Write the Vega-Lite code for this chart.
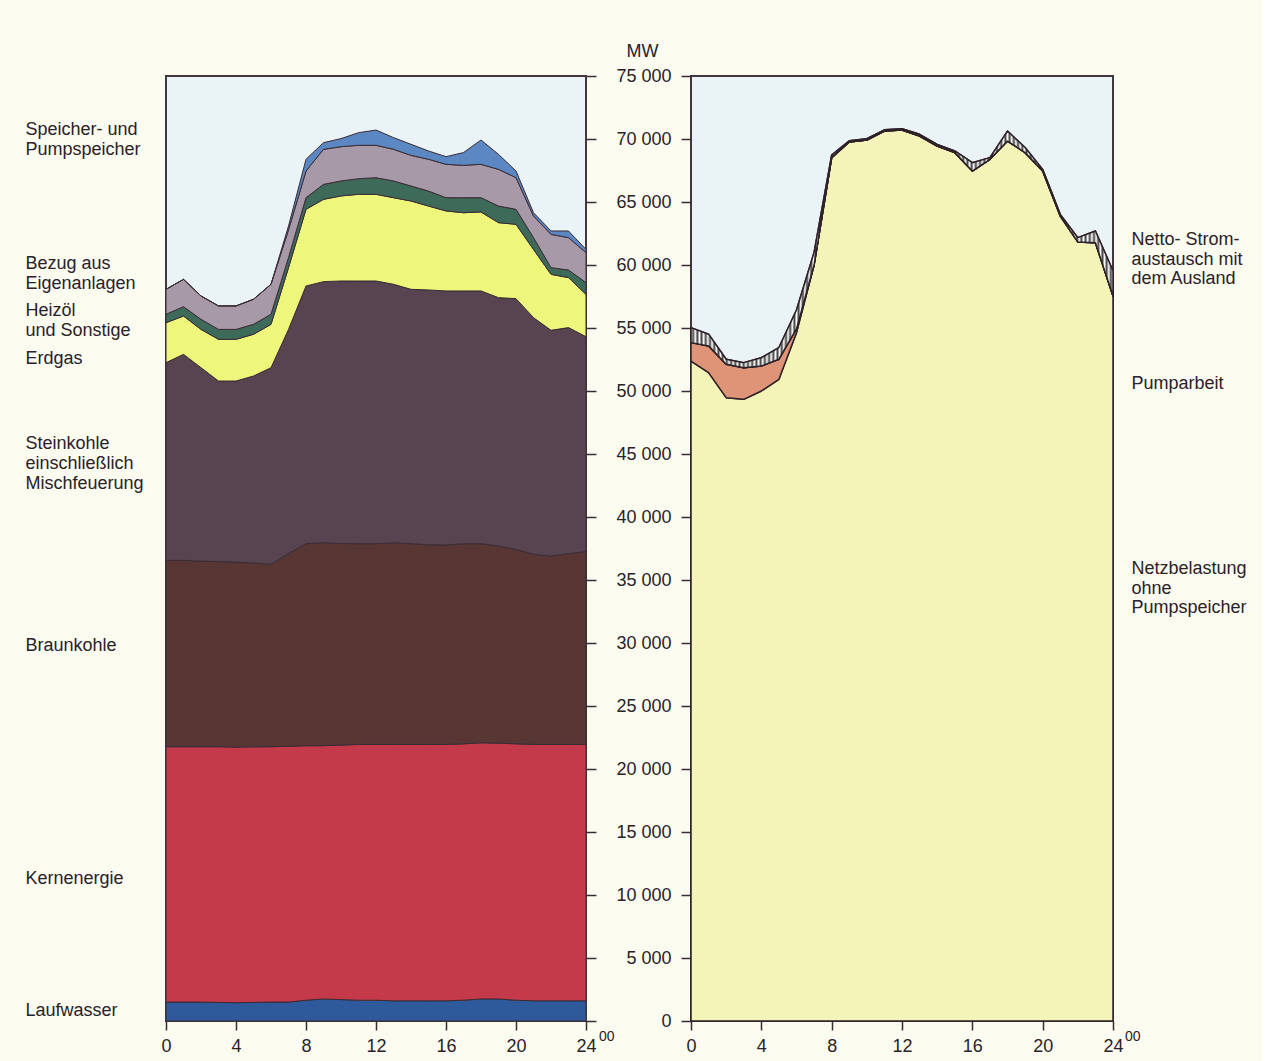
{
  "$schema": "https://vega.github.io/schema/vega-lite/v6.json",
  "background": "#fbfbef",
  "padding": {"left": 24, "top": 41, "right": 14, "bottom": 6},
  "bounds": "flush",
  "spacing": 105,
  "resolve": {"scale": {"color": "independent"}},
  "config": {
    "font": "Liberation Sans",
    "view": {"fill": "#eaf3f6", "stroke": "#43363e", "strokeWidth": 2},
    "axis": {
      "grid": false, "domain": false,
      "labelFont": "Liberation Sans", "labelFontSize": 18, "labelColor": "#2a2228", "labelFontWeight": "normal",
      "tickColor": "#3a2c34", "tickWidth": 1.5,
      "titleFont": "Liberation Sans", "titleColor": "#2a2228", "titleFontSize": 18, "titleFontWeight": "normal"
    }
  },
  "hconcat": [
    {
      "width": 420,
      "height": 945,
      "layer": [
        {
          "data": {"values": [
            {"h":0,"Laufwasser":1500,"Kernenergie":20270,"Braunkohle":14790,"Steinkohle":15690,"Erdgas":3170,"Heizoel":670,"Bezug":1980,"Speicher":0},
            {"h":1,"Laufwasser":1500,"Kernenergie":20270,"Braunkohle":14790,"Steinkohle":16350,"Erdgas":3040,"Heizoel":740,"Bezug":2170,"Speicher":0},
            {"h":2,"Laufwasser":1500,"Kernenergie":20270,"Braunkohle":14730,"Steinkohle":15350,"Erdgas":3040,"Heizoel":800,"Bezug":1850,"Speicher":0},
            {"h":3,"Laufwasser":1480,"Kernenergie":20290,"Braunkohle":14690,"Steinkohle":14330,"Erdgas":3310,"Heizoel":790,"Bezug":1860,"Speicher":0},
            {"h":4,"Laufwasser":1450,"Kernenergie":20290,"Braunkohle":14680,"Steinkohle":14370,"Erdgas":3310,"Heizoel":790,"Bezug":1860,"Speicher":0},
            {"h":5,"Laufwasser":1480,"Kernenergie":20280,"Braunkohle":14590,"Steinkohle":14840,"Erdgas":3310,"Heizoel":790,"Bezug":1990,"Speicher":0},
            {"h":6,"Laufwasser":1500,"Kernenergie":20270,"Braunkohle":14480,"Steinkohle":15600,"Erdgas":3440,"Heizoel":800,"Bezug":2380,"Speicher":0},
            {"h":7,"Laufwasser":1500,"Kernenergie":20300,"Braunkohle":15300,"Steinkohle":17790,"Erdgas":4900,"Heizoel":800,"Bezug":2200,"Speicher":300},
            {"h":8,"Laufwasser":1650,"Kernenergie":20200,"Braunkohle":16030,"Steinkohle":20450,"Erdgas":6090,"Heizoel":920,"Bezug":2120,"Speicher":930},
            {"h":9,"Laufwasser":1750,"Kernenergie":20100,"Braunkohle":16110,"Steinkohle":20720,"Erdgas":6530,"Heizoel":1190,"Bezug":2780,"Speicher":530},
            {"h":10,"Laufwasser":1700,"Kernenergie":20200,"Braunkohle":16000,"Steinkohle":20830,"Erdgas":6750,"Heizoel":1190,"Bezug":2720,"Speicher":640},
            {"h":11,"Laufwasser":1650,"Kernenergie":20300,"Braunkohle":15930,"Steinkohle":20850,"Erdgas":6880,"Heizoel":1240,"Bezug":2650,"Speicher":1000},
            {"h":12,"Laufwasser":1650,"Kernenergie":20300,"Braunkohle":15930,"Steinkohle":20850,"Erdgas":6880,"Heizoel":1320,"Bezug":2570,"Speicher":1210},
            {"h":13,"Laufwasser":1600,"Kernenergie":20350,"Braunkohle":16010,"Steinkohle":20510,"Erdgas":6870,"Heizoel":1330,"Bezug":2510,"Speicher":930},
            {"h":14,"Laufwasser":1600,"Kernenergie":20350,"Braunkohle":15930,"Steinkohle":20190,"Erdgas":7010,"Heizoel":1190,"Bezug":2430,"Speicher":880},
            {"h":15,"Laufwasser":1600,"Kernenergie":20350,"Braunkohle":15850,"Steinkohle":20220,"Erdgas":6660,"Heizoel":1190,"Bezug":2520,"Speicher":660},
            {"h":16,"Laufwasser":1600,"Kernenergie":20350,"Braunkohle":15830,"Steinkohle":20160,"Erdgas":6350,"Heizoel":1050,"Bezug":2650,"Speicher":610},
            {"h":17,"Laufwasser":1650,"Kernenergie":20350,"Braunkohle":15880,"Steinkohle":20060,"Erdgas":6210,"Heizoel":1190,"Bezug":2570,"Speicher":1010},
            {"h":18,"Laufwasser":1750,"Kernenergie":20330,"Braunkohle":15800,"Steinkohle":20060,"Erdgas":6270,"Heizoel":1130,"Bezug":2650,"Speicher":1930},
            {"h":19,"Laufwasser":1750,"Kernenergie":20300,"Braunkohle":15650,"Steinkohle":19710,"Erdgas":5950,"Heizoel":1320,"Bezug":2910,"Speicher":1190},
            {"h":20,"Laufwasser":1650,"Kernenergie":20350,"Braunkohle":15430,"Steinkohle":19900,"Erdgas":5900,"Heizoel":1190,"Bezug":2510,"Speicher":530},
            {"h":21,"Laufwasser":1600,"Kernenergie":20350,"Braunkohle":15090,"Steinkohle":18780,"Erdgas":5420,"Heizoel":930,"Bezug":1720,"Speicher":260},
            {"h":22,"Laufwasser":1600,"Kernenergie":20350,"Braunkohle":14950,"Steinkohle":17920,"Erdgas":4440,"Heizoel":530,"Bezug":2640,"Speicher":270},
            {"h":23,"Laufwasser":1600,"Kernenergie":20350,"Braunkohle":15140,"Steinkohle":17940,"Erdgas":3970,"Heizoel":600,"Bezug":2570,"Speicher":530},
            {"h":24,"Laufwasser":1600,"Kernenergie":20350,"Braunkohle":15300,"Steinkohle":17060,"Erdgas":3360,"Heizoel":930,"Bezug":2380,"Speicher":260}
          ]},
          "transform": [
            {"fold": ["Laufwasser","Kernenergie","Braunkohle","Steinkohle","Erdgas","Heizoel","Bezug","Speicher"], "as": ["src","mw"]},
            {"lookup": "src", "from": {"data": {"values": [
              {"src":"Laufwasser","k":1},{"src":"Kernenergie","k":2},{"src":"Braunkohle","k":3},{"src":"Steinkohle","k":4},
              {"src":"Erdgas","k":5},{"src":"Heizoel","k":6},{"src":"Bezug","k":7},{"src":"Speicher","k":8}
            ]}, "key": "src", "fields": ["k"]}}
          ],
          "mark": {"type": "area", "stroke": "#3a2c34", "strokeWidth": 1, "strokeJoin": "round"},
          "encoding": {
            "x": {"field": "h", "type": "quantitative", "scale": {"domain": [0, 24], "nice": false, "zero": false},
                  "axis": {"values": [0,4,8,12,16,20,24], "tickSize": 9, "labelPadding": 7, "labelFlush": false, "title": null}},
            "y": {"field": "mw", "type": "quantitative", "stack": "zero", "scale": {"domain": [0, 75000], "nice": false},
                  "axis": {"orient": "right", "values": [0,5000,10000,15000,20000,25000,30000,35000,40000,45000,50000,55000,60000,65000,70000,75000], "labels": false, "tickSize": 10, "title": null}},
            "color": {"field": "src", "type": "nominal",
                      "scale": {"domain": ["Laufwasser","Kernenergie","Braunkohle","Steinkohle","Erdgas","Heizoel","Bezug","Speicher"],
                                "range": ["#2e5a9c","#c53a4a","#573634","#574450","#eef67c","#3e6a5a","#a899a8","#5b87c2"]},
                      "legend": null},
            "order": {"field": "k", "type": "quantitative"}
          }
        },
        {
          "data": {"values": [{"h": 24, "mw": 0}]},
          "mark": {"type": "text", "text": "00", "align": "left", "baseline": "middle", "dx": 13, "dy": 16, "fontSize": 14, "color": "#2a2228", "font": "Liberation Sans"},
          "encoding": {
            "x": {"field": "h", "type": "quantitative", "scale": {"domain": [0, 24], "nice": false, "zero": false},
                  "axis": {"values": [0,4,8,12,16,20,24], "tickSize": 9, "labelPadding": 7, "labelFlush": false, "title": null}},
            "y": {"field": "mw", "type": "quantitative", "scale": {"domain": [0, 75000], "nice": false},
                  "axis": {"orient": "left", "values": [70716,69128,60081,58493,56350,54763,52541,45795,44208,42620,29762,11349,794],
                           "labelExpr": "datum.value==70716?'Speicher- und':datum.value==69128?'Pumpspeicher':datum.value==60081?'Bezug aus':datum.value==58493?'Eigenanlagen':datum.value==56350?'Heizöl':datum.value==54763?'und Sonstige':datum.value==52541?'Erdgas':datum.value==45795?'Steinkohle':datum.value==44208?'einschließlich':datum.value==42620?'Mischfeuerung':datum.value==29762?'Braunkohle':datum.value==11349?'Kernenergie':'Laufwasser'",
                           "ticks": false, "tickSize": 0, "labelPadding": 141, "labelAlign": "left", "labelBaseline": "middle",
                           "labelOverlap": false, "labelBound": false, "title": null}}
          }
        }
      ],
      "resolve": {"axis": {"y": "independent"}}
    },
    {
      "width": 422,
      "height": 945,
      "layer": [
        {
          "data": {"values": [
            {"h":0,"Netz":52380,"Pump":1460,"Netto":1190},
            {"h":1,"Netz":51460,"Pump":2120,"Netto":930},
            {"h":2,"Netz":49470,"Pump":2650,"Netto":400},
            {"h":3,"Netz":49340,"Pump":2510,"Netto":400},
            {"h":4,"Netz":50000,"Pump":1980,"Netto":660},
            {"h":5,"Netz":50930,"Pump":1590,"Netto":930},
            {"h":6,"Netz":54630,"Pump":300,"Netto":1500},
            {"h":7,"Netz":60000,"Pump":0,"Netto":1000},
            {"h":8,"Netz":68520,"Pump":0,"Netto":200},
            {"h":9,"Netz":69760,"Pump":0,"Netto":100},
            {"h":10,"Netz":69920,"Pump":0,"Netto":100},
            {"h":11,"Netz":70630,"Pump":0,"Netto":100},
            {"h":12,"Netz":70710,"Pump":0,"Netto":100},
            {"h":13,"Netz":70240,"Pump":0,"Netto":130},
            {"h":14,"Netz":69440,"Pump":0,"Netto":130},
            {"h":15,"Netz":68920,"Pump":0,"Netto":130},
            {"h":16,"Netz":67460,"Pump":0,"Netto":660},
            {"h":17,"Netz":68390,"Pump":0,"Netto":130},
            {"h":18,"Netz":69840,"Pump":0,"Netto":790},
            {"h":19,"Netz":68920,"Pump":0,"Netto":400},
            {"h":20,"Netz":67460,"Pump":0,"Netto":130},
            {"h":21,"Netz":63890,"Pump":0,"Netto":130},
            {"h":22,"Netz":61830,"Pump":0,"Netto":340},
            {"h":23,"Netz":61770,"Pump":0,"Netto":930},
            {"h":24,"Netz":57540,"Pump":0,"Netto":2000}
          ]},
          "transform": [
            {"fold": ["Netz","Pump","Netto"], "as": ["src","mw"]},
            {"lookup": "src", "from": {"data": {"values": [
              {"src":"Netz","k":1},{"src":"Pump","k":2},{"src":"Netto","k":3}
            ]}, "key": "src", "fields": ["k"]}},
            {"stack": "mw", "groupby": ["h"], "sort": [{"field": "k", "order": "ascending"}], "as": ["lo", "hi"]}
          ],
          "layer": [
            {
              "mark": {"type": "area", "stroke": "#2e2228", "strokeWidth": 1.5, "strokeJoin": "round"},
              "encoding": {
                "x": {"field": "h", "type": "quantitative", "scale": {"domain": [0, 24], "nice": false, "zero": false},
                      "axis": {"values": [0,4,8,12,16,20,24], "tickSize": 9, "labelPadding": 7, "labelFlush": false, "title": null}},
                "y": {"field": "hi", "type": "quantitative", "scale": {"domain": [0, 75000], "nice": false},
                      "axis": {"orient": "left", "values": [0,5000,10000,15000,20000,25000,30000,35000,40000,45000,50000,55000,60000,65000,70000,75000],
                               "labelExpr": "replace(format(datum.value, ','), ',', ' ')",
                               "tickSize": 10, "labelPadding": 10, "labelBaseline": "middle", "labelOverlap": false,
                               "title": "MW", "titleAngle": 0, "titleX": -49, "titleY": -25, "titleAlign": "center", "titleBaseline": "middle"}},
                "y2": {"field": "lo"},
                "color": {"field": "src", "type": "nominal",
                          "scale": {"domain": ["Netz","Pump","Netto"], "range": ["#f4f3b8","#df9478","#a19d9c"]},
                          "legend": null}
              }
            },
            {
              "transform": [{"filter": "datum.src == 'Netto'"}],
              "mark": {"type": "area", "stroke": "#2e2228", "strokeWidth": 1.5, "strokeJoin": "round",
                       "fill": {"gradient": "linear", "x1": 0, "y1": 0, "x2": 1, "y2": 0, "stops": [
{"offset":0,"color":"#fff"},{"offset":0.005,"color":"#444"},{"offset":0.01,"color":"#fff"},{"offset":0.015,"color":"#444"},{"offset":0.02,"color":"#fff"},{"offset":0.025,"color":"#444"},{"offset":0.03,"color":"#fff"},{"offset":0.035,"color":"#444"},{"offset":0.04,"color":"#fff"},{"offset":0.045,"color":"#444"},
{"offset":0.05,"color":"#fff"},{"offset":0.055,"color":"#444"},{"offset":0.06,"color":"#fff"},{"offset":0.065,"color":"#444"},{"offset":0.07,"color":"#fff"},{"offset":0.075,"color":"#444"},{"offset":0.08,"color":"#fff"},{"offset":0.085,"color":"#444"},{"offset":0.09,"color":"#fff"},{"offset":0.095,"color":"#444"},
{"offset":0.1,"color":"#fff"},{"offset":0.105,"color":"#444"},{"offset":0.11,"color":"#fff"},{"offset":0.115,"color":"#444"},{"offset":0.12,"color":"#fff"},{"offset":0.125,"color":"#444"},{"offset":0.13,"color":"#fff"},{"offset":0.135,"color":"#444"},{"offset":0.14,"color":"#fff"},{"offset":0.145,"color":"#444"},
{"offset":0.15,"color":"#fff"},{"offset":0.155,"color":"#444"},{"offset":0.16,"color":"#fff"},{"offset":0.165,"color":"#444"},{"offset":0.17,"color":"#fff"},{"offset":0.175,"color":"#444"},{"offset":0.18,"color":"#fff"},{"offset":0.185,"color":"#444"},{"offset":0.19,"color":"#fff"},{"offset":0.195,"color":"#444"},
{"offset":0.2,"color":"#fff"},{"offset":0.205,"color":"#444"},{"offset":0.21,"color":"#fff"},{"offset":0.215,"color":"#444"},{"offset":0.22,"color":"#fff"},{"offset":0.225,"color":"#444"},{"offset":0.23,"color":"#fff"},{"offset":0.235,"color":"#444"},{"offset":0.24,"color":"#fff"},{"offset":0.245,"color":"#444"},
{"offset":0.25,"color":"#fff"},{"offset":0.255,"color":"#444"},{"offset":0.26,"color":"#fff"},{"offset":0.265,"color":"#444"},{"offset":0.27,"color":"#fff"},{"offset":0.275,"color":"#444"},{"offset":0.28,"color":"#fff"},{"offset":0.285,"color":"#444"},{"offset":0.29,"color":"#fff"},{"offset":0.295,"color":"#444"},
{"offset":0.3,"color":"#fff"},{"offset":0.305,"color":"#444"},{"offset":0.31,"color":"#fff"},{"offset":0.315,"color":"#444"},{"offset":0.32,"color":"#fff"},{"offset":0.325,"color":"#444"},{"offset":0.33,"color":"#fff"},{"offset":0.335,"color":"#444"},{"offset":0.34,"color":"#fff"},{"offset":0.345,"color":"#444"},
{"offset":0.35,"color":"#fff"},{"offset":0.355,"color":"#444"},{"offset":0.36,"color":"#fff"},{"offset":0.365,"color":"#444"},{"offset":0.37,"color":"#fff"},{"offset":0.375,"color":"#444"},{"offset":0.38,"color":"#fff"},{"offset":0.385,"color":"#444"},{"offset":0.39,"color":"#fff"},{"offset":0.395,"color":"#444"},
{"offset":0.4,"color":"#fff"},{"offset":0.405,"color":"#444"},{"offset":0.41,"color":"#fff"},{"offset":0.415,"color":"#444"},{"offset":0.42,"color":"#fff"},{"offset":0.425,"color":"#444"},{"offset":0.43,"color":"#fff"},{"offset":0.435,"color":"#444"},{"offset":0.44,"color":"#fff"},{"offset":0.445,"color":"#444"},
{"offset":0.45,"color":"#fff"},{"offset":0.455,"color":"#444"},{"offset":0.46,"color":"#fff"},{"offset":0.465,"color":"#444"},{"offset":0.47,"color":"#fff"},{"offset":0.475,"color":"#444"},{"offset":0.48,"color":"#fff"},{"offset":0.485,"color":"#444"},{"offset":0.49,"color":"#fff"},{"offset":0.495,"color":"#444"},
{"offset":0.5,"color":"#fff"},{"offset":0.505,"color":"#444"},{"offset":0.51,"color":"#fff"},{"offset":0.515,"color":"#444"},{"offset":0.52,"color":"#fff"},{"offset":0.525,"color":"#444"},{"offset":0.53,"color":"#fff"},{"offset":0.535,"color":"#444"},{"offset":0.54,"color":"#fff"},{"offset":0.545,"color":"#444"},
{"offset":0.55,"color":"#fff"},{"offset":0.555,"color":"#444"},{"offset":0.56,"color":"#fff"},{"offset":0.565,"color":"#444"},{"offset":0.57,"color":"#fff"},{"offset":0.575,"color":"#444"},{"offset":0.58,"color":"#fff"},{"offset":0.585,"color":"#444"},{"offset":0.59,"color":"#fff"},{"offset":0.595,"color":"#444"},
{"offset":0.6,"color":"#fff"},{"offset":0.605,"color":"#444"},{"offset":0.61,"color":"#fff"},{"offset":0.615,"color":"#444"},{"offset":0.62,"color":"#fff"},{"offset":0.625,"color":"#444"},{"offset":0.63,"color":"#fff"},{"offset":0.635,"color":"#444"},{"offset":0.64,"color":"#fff"},{"offset":0.645,"color":"#444"},
{"offset":0.65,"color":"#fff"},{"offset":0.655,"color":"#444"},{"offset":0.66,"color":"#fff"},{"offset":0.665,"color":"#444"},{"offset":0.67,"color":"#fff"},{"offset":0.675,"color":"#444"},{"offset":0.68,"color":"#fff"},{"offset":0.685,"color":"#444"},{"offset":0.69,"color":"#fff"},{"offset":0.695,"color":"#444"},
{"offset":0.7,"color":"#fff"},{"offset":0.705,"color":"#444"},{"offset":0.71,"color":"#fff"},{"offset":0.715,"color":"#444"},{"offset":0.72,"color":"#fff"},{"offset":0.725,"color":"#444"},{"offset":0.73,"color":"#fff"},{"offset":0.735,"color":"#444"},{"offset":0.74,"color":"#fff"},{"offset":0.745,"color":"#444"},
{"offset":0.75,"color":"#fff"},{"offset":0.755,"color":"#444"},{"offset":0.76,"color":"#fff"},{"offset":0.765,"color":"#444"},{"offset":0.77,"color":"#fff"},{"offset":0.775,"color":"#444"},{"offset":0.78,"color":"#fff"},{"offset":0.785,"color":"#444"},{"offset":0.79,"color":"#fff"},{"offset":0.795,"color":"#444"},
{"offset":0.8,"color":"#fff"},{"offset":0.805,"color":"#444"},{"offset":0.81,"color":"#fff"},{"offset":0.815,"color":"#444"},{"offset":0.82,"color":"#fff"},{"offset":0.825,"color":"#444"},{"offset":0.83,"color":"#fff"},{"offset":0.835,"color":"#444"},{"offset":0.84,"color":"#fff"},{"offset":0.845,"color":"#444"},
{"offset":0.85,"color":"#fff"},{"offset":0.855,"color":"#444"},{"offset":0.86,"color":"#fff"},{"offset":0.865,"color":"#444"},{"offset":0.87,"color":"#fff"},{"offset":0.875,"color":"#444"},{"offset":0.88,"color":"#fff"},{"offset":0.885,"color":"#444"},{"offset":0.89,"color":"#fff"},{"offset":0.895,"color":"#444"},
{"offset":0.9,"color":"#fff"},{"offset":0.905,"color":"#444"},{"offset":0.91,"color":"#fff"},{"offset":0.915,"color":"#444"},{"offset":0.92,"color":"#fff"},{"offset":0.925,"color":"#444"},{"offset":0.93,"color":"#fff"},{"offset":0.935,"color":"#444"},{"offset":0.94,"color":"#fff"},{"offset":0.945,"color":"#444"},
{"offset":0.95,"color":"#fff"},{"offset":0.955,"color":"#444"},{"offset":0.96,"color":"#fff"},{"offset":0.965,"color":"#444"},{"offset":0.97,"color":"#fff"},{"offset":0.975,"color":"#444"},{"offset":0.98,"color":"#fff"},{"offset":0.985,"color":"#444"},{"offset":0.99,"color":"#fff"},{"offset":0.995,"color":"#444"},
{"offset":1,"color":"#fff"}
                       ]}},
              "encoding": {
                "x": {"field": "h", "type": "quantitative", "scale": {"domain": [0, 24], "nice": false, "zero": false},
                      "axis": {"values": [0,4,8,12,16,20,24], "tickSize": 9, "labelPadding": 7, "labelFlush": false, "title": null}},
                "y": {"field": "hi", "type": "quantitative", "scale": {"domain": [0, 75000], "nice": false},
                      "axis": {"orient": "left", "values": [0,5000,10000,15000,20000,25000,30000,35000,40000,45000,50000,55000,60000,65000,70000,75000],
                               "labelExpr": "replace(format(datum.value, ','), ',', ' ')",
                               "tickSize": 10, "labelPadding": 10, "labelBaseline": "middle", "labelOverlap": false,
                               "title": "MW", "titleAngle": 0, "titleX": -49, "titleY": -25, "titleAlign": "center", "titleBaseline": "middle"}},
                "y2": {"field": "lo"}
              }
            }
          ]
        },
        {
          "data": {"values": [{"h": 24, "mw": 0}]},
          "mark": {"type": "text", "text": "00", "align": "left", "baseline": "middle", "dx": 12, "dy": 16, "fontSize": 14, "color": "#2a2228", "font": "Liberation Sans"},
          "encoding": {
            "x": {"field": "h", "type": "quantitative", "scale": {"domain": [0, 24], "nice": false, "zero": false},
                  "axis": {"values": [0,4,8,12,16,20,24], "tickSize": 9, "labelPadding": 7, "labelFlush": false, "title": null}},
            "y": {"field": "mw", "type": "quantitative", "scale": {"domain": [0, 75000], "nice": false},
                  "axis": {"orient": "right", "values": [62024,60437,58968,50556,35952,34365,32778],
                           "labelExpr": "datum.value==62024?'Netto- Strom-':datum.value==60437?'austausch mit':datum.value==58968?'dem Ausland':datum.value==50556?'Pumparbeit':datum.value==35952?'Netzbelastung':datum.value==34365?'ohne':'Pumpspeicher'",
                           "ticks": false, "tickSize": 0, "labelPadding": 18, "labelAlign": "left", "labelBaseline": "middle",
                           "labelOverlap": false, "labelBound": false, "title": null}}
          }
        }
      ],
      "resolve": {"axis": {"y": "independent"}}
    }
  ]
}
